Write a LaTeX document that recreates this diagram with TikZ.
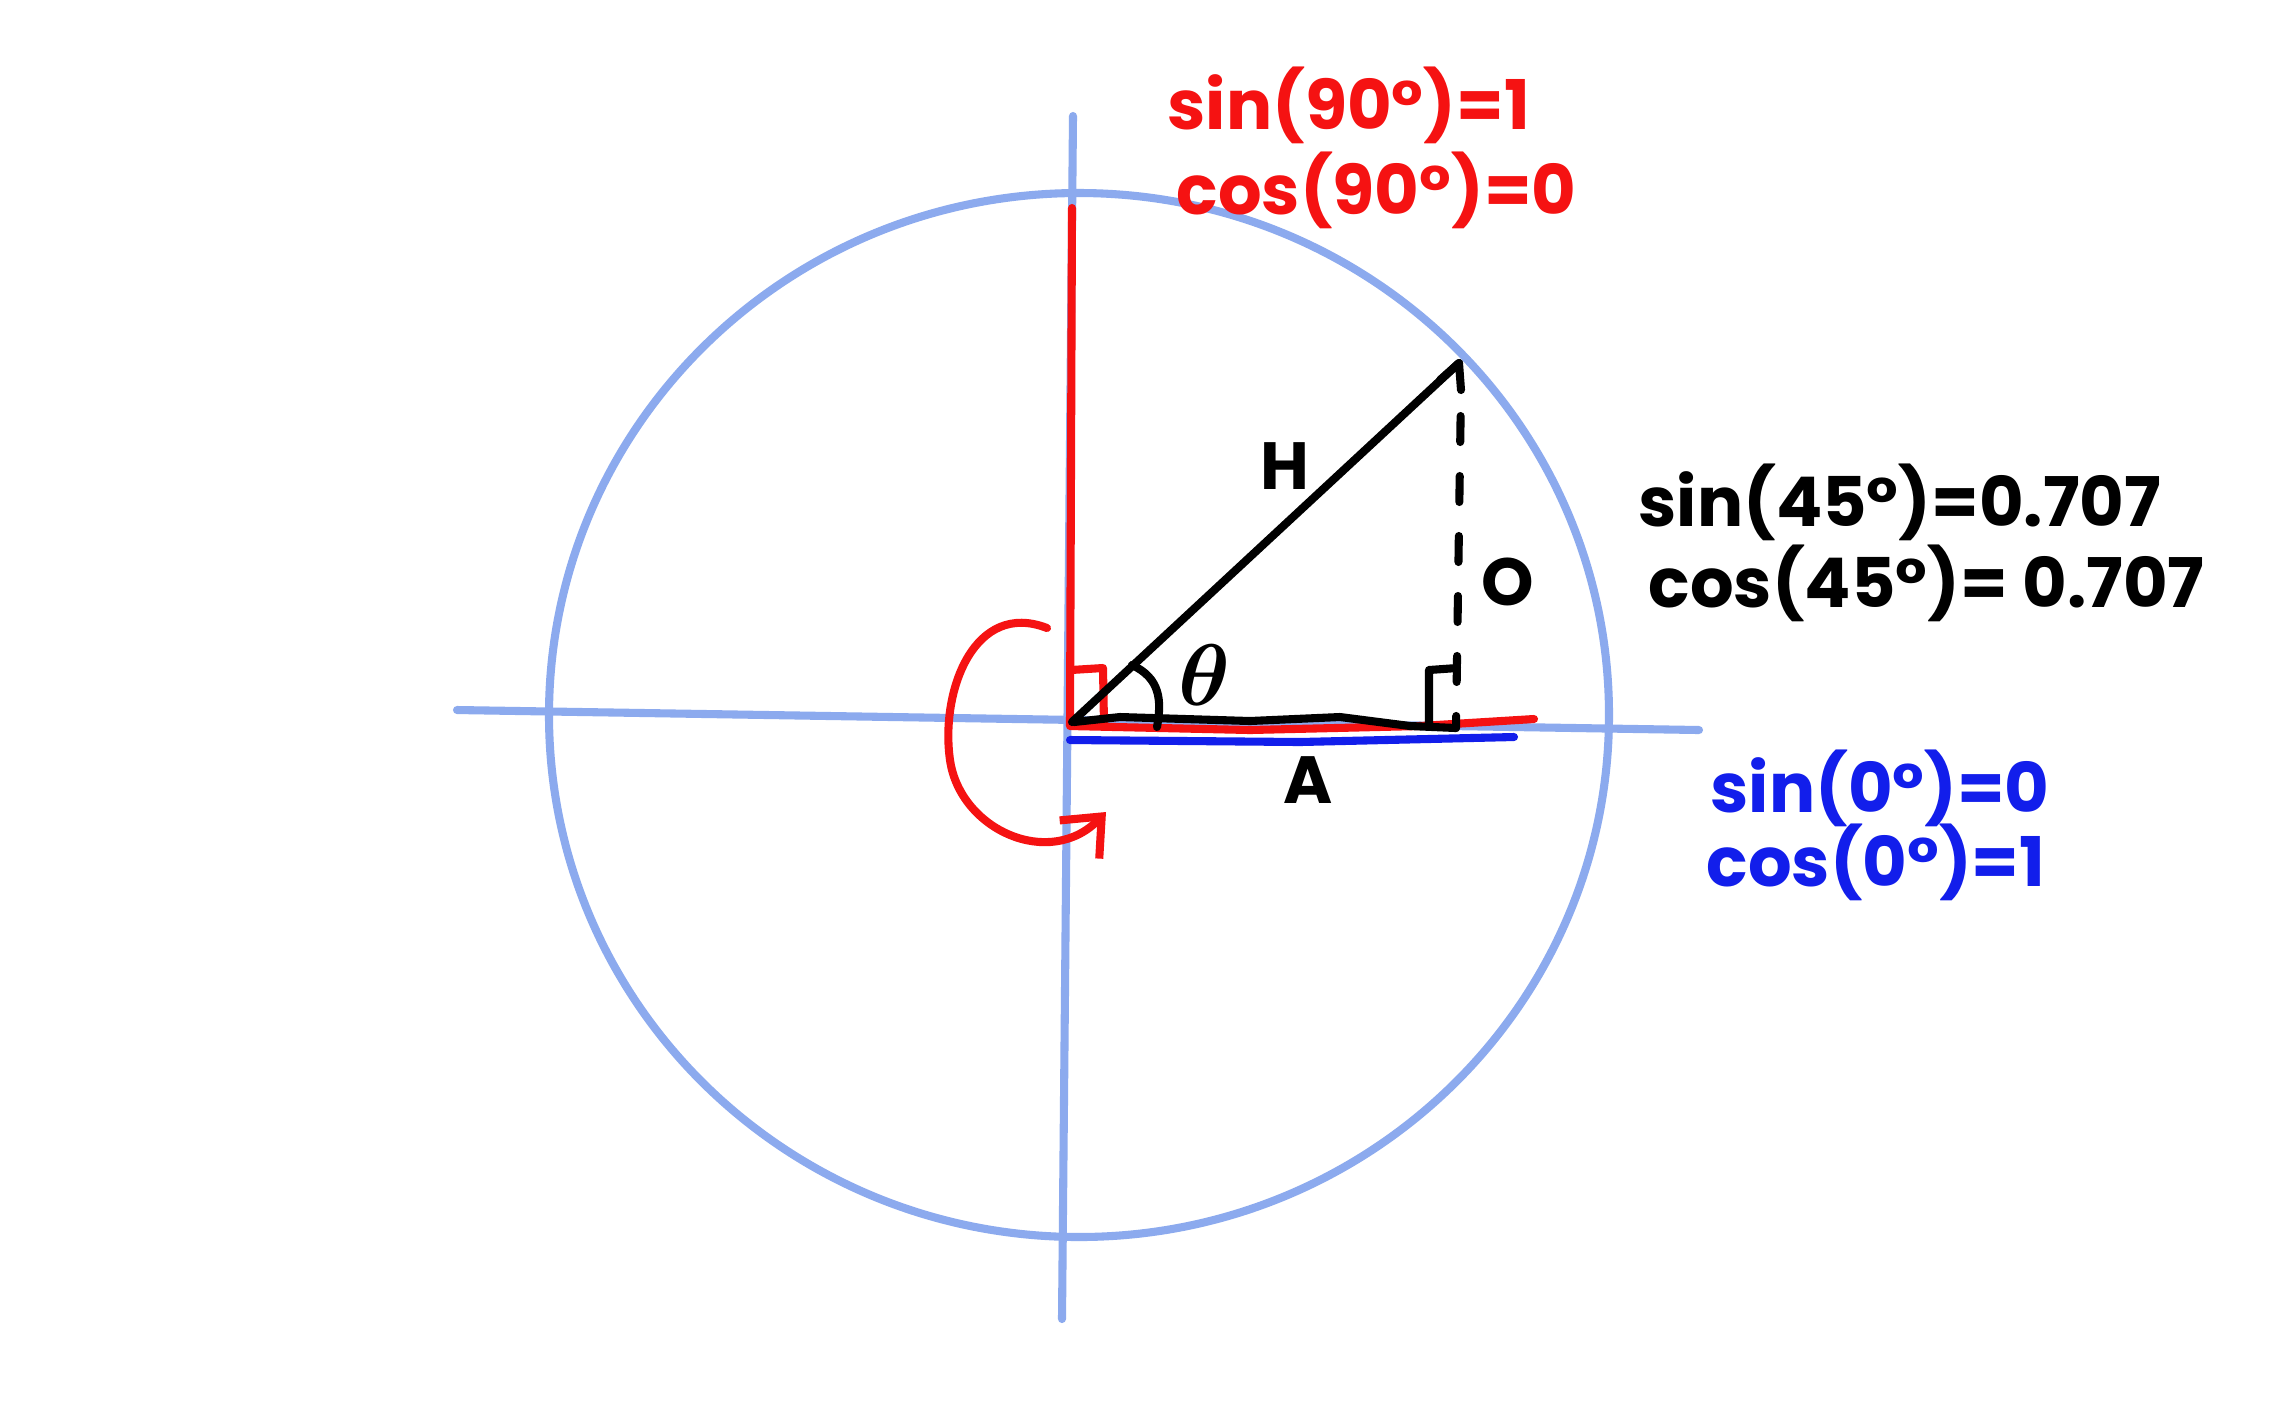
\documentclass[tikz,border=0pt]{standalone}
\usepackage{amsmath}
\usepackage{fontspec}
\setmainfont{Poppins}
\usepackage{xcolor}
\usepackage{tikz}
\usetikzlibrary{arrows.meta, calc}

\definecolor{axisblue}{RGB}{140,170,238}
\definecolor{redpen}{RGB}{245,18,18}
\definecolor{bluepen}{RGB}{18,30,235}

\begin{document}
\begin{tikzpicture}[x=0.1mm, y=-0.1mm, line cap=round, line join=round,
    >={Straight Barb[length=3.2mm, width=5.5mm]},
    axis/.style={draw=axisblue, line width=2.3pt},
    pen/.style={line width=2.3pt},
    lbl/.style={font=\bfseries\fontsize{19}{21}\selectfont, inner sep=0pt},
    eqn/.style={font=\bfseries\fontsize{19.5}{21}\selectfont, inner sep=0pt, anchor=west}]
    \useasboundingbox[fill=white] (0,0) rectangle (2277,1406);

    % Points
    \coordinate (C) at (1079,715);
    \coordinate (O) at (1072,722);
    \coordinate (P) at (1459,363);
    \coordinate (F) at (1456,728);
    \coordinate (Wx) at (457,710);
    \coordinate (Ex) at (1699,730);
    \coordinate (Ny) at (1073,116);
    \coordinate (Sy) at (1062,1319);

    % Unit circle and axes
    \draw[axis] (C) ellipse [x radius=530, y radius=522];
    \draw[axis] (Wx) -- (Ex);
    \draw[axis] (Ny) -- (Sy);

    % 90 degree case
    \draw[pen, redpen] (1072,208) -- (1070,726) -- (1250,730) -- (1420,726) -- (1534,719);
    \draw[pen, redpen] (1071,670) -- (1103,668) -- (1104,724);

    % 0 degree case
    \draw[pen, bluepen] (1070,740) -- (1300,742) -- (1514,737);

    % 45 degree triangle
    \draw[pen, black] (O) -- (P);
    \draw[pen, black] (1440,380) -- (P) -- (1461,390);
    \draw[pen, black, dash pattern=on 2.6mm off 3.4mm, dash phase=-2.6mm] (1461,390) -- (F);
    \draw[pen, black] (1074,722) -- (1120,717) -- (1250,721) -- (1340,717) -- (1410,726) -- (F);
    \draw[pen, black] (1429,723) -- (1429,670) -- (1457,668);
    \draw[pen, black] (1132,665) .. controls (1160,678) and (1162,700) .. (1157,727);

    % Rotation arrow
    \draw[pen, redpen, ->] (1047,628) .. controls (975,600) and (940,690) .. (950,760)
        .. controls (960,830) and (1050,870) .. (1106,812);

    % Side labels
    \node[lbl] (hyp) at (1285,466) {H};
    \node[lbl] (opp) at (1508,582) {O};
    \node[lbl] (adj) at (1308,780) {A};
    \node[lbl, font=\fontsize{25}{27}\selectfont\mathversion{bold}] (ang) at (1204,675) {$\theta$};

    % Values
    \node[eqn, text=redpen] (sinNinety) at (1167,105) {sin(90°)=1};
    \node[eqn, text=redpen] (cosNinety) at (1176,190) {cos(90°)=0};
    \node[eqn] (sinFortyfive) at (1638,502) {sin(45°)=0.707};
    \node[eqn] (cosFortyfive) at (1648,583) {cos(45°)= 0.707};
    \node[eqn, text=bluepen] (sinZero) at (1710,788) {sin(0°)=0};
    \node[eqn, text=bluepen] (cosZero) at (1706,862) {cos(0°)=1};
\end{tikzpicture}
\end{document}
